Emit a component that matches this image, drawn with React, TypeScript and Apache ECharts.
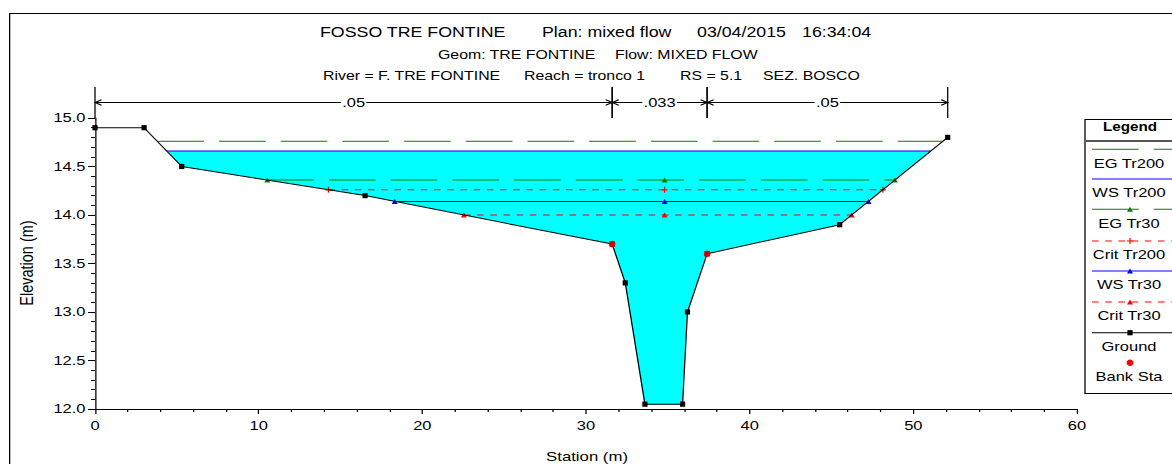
import React, { useEffect, useRef } from 'react';
import * as echarts from 'echarts';

// ---------- data ----------
const groundSta = [0, 3, 5.3, 16.5, 31.6, 32.4, 33.6, 35.9, 36.2, 37.4, 45.5, 52.1];
const groundElev = [14.9, 14.9, 14.5, 14.2, 13.7, 13.3, 12.05, 12.05, 13.0, 13.6, 13.9, 14.8];
const bankSta = [31.6, 37.4];
const manningN = ['.05', '.033', '.05'];
const profileNames = ['EG Tr200', 'WS Tr200', 'EG Tr30', 'Crit Tr200', 'WS Tr30', 'Crit Tr30'];
const profileElev = [14.76, 14.66, 14.36, 14.26, 14.14, 14.0];
const centerMarkerSta = 34.8;
const legendLabels = [...profileNames, 'Ground', 'Bank Sta'];
const titleLine1 = ['FOSSO TRE FONTINE', 'Plan: mixed flow', '03/04/2015', '16:34:04'];
const titleLine2 = ['Geom: TRE FONTINE', 'Flow: MIXED FLOW'];
const titleLine3 = ['River = F. TRE FONTINE', 'Reach = tronco 1', 'RS = 5.1', 'SEZ. BOSCO'];
const xAxisName = 'Station (m)';
const yAxisName = 'Elevation (m)';

// ---------- layout (page px; chart is stretched horizontally) ----------
const W = 923;
const H = 464;
const S = 1172 / W;
const X = (p: number) => p / S;
const FONT = 'Liberation Sans, Arial, Helvetica, sans-serif';

const DIM_ELEV = 15.17;
const DIM_TOP = 15.32;
const DIM_BOT = 15.0;

const DASH_LONG = [X(46.7), X(15)];
const DASH_SHORT = [X(6.6), X(6.6)];
const TRI = [X(6), 5];
const CROSS_PATH = 'path://M4,0H6V4H10V6H6V10H4V6H0V4H4Z';

type PStyle = { color: string; dash: number[] | null; marker: string | null; center: boolean };
const profileStyles: PStyle[] = [
  { color: '#008000', dash: DASH_LONG, marker: null, center: false },
  { color: '#0000ff', dash: null, marker: null, center: false },
  { color: '#008000', dash: DASH_LONG, marker: 'triangle', center: true },
  { color: '#ff0000', dash: DASH_SHORT, marker: 'cross', center: true },
  { color: '#0000ff', dash: null, marker: 'triangle', center: true },
  { color: '#ff0000', dash: DASH_SHORT, marker: 'triangle', center: true },
];

function crossings(w: number): [number, number] {
  let left = groundSta[0];
  let right = groundSta[groundSta.length - 1];
  for (let i = 0; i < groundSta.length - 1; i++) {
    const e0 = groundElev[i], e1 = groundElev[i + 1];
    if (e0 >= w && e1 < w) {
      left = groundSta[i] + ((e0 - w) / (e0 - e1)) * (groundSta[i + 1] - groundSta[i]);
      break;
    }
  }
  for (let i = groundSta.length - 1; i > 0; i--) {
    const e0 = groundElev[i], e1 = groundElev[i - 1];
    if (e0 >= w && e1 < w) {
      right = groundSta[i] - ((e0 - w) / (e0 - e1)) * (groundSta[i] - groundSta[i - 1]);
      break;
    }
  }
  return [left, right];
}

function groundAt(x: number): number {
  for (let i = 0; i < groundSta.length - 1; i++) {
    if (x >= groundSta[i] && x <= groundSta[i + 1]) {
      const t = (x - groundSta[i]) / (groundSta[i + 1] - groundSta[i]);
      return groundElev[i] + t * (groundElev[i + 1] - groundElev[i]);
    }
  }
  return groundElev[groundElev.length - 1];
}

export default function App() {
  const ref = useRef<HTMLDivElement>(null);

  useEffect(() => {
    if (!ref.current) return;
    const chart = echarts.init(ref.current, undefined, { renderer: 'svg', width: W, height: H });

    const wsElev = profileElev[1];
    const [wl, wr] = crossings(wsElev);
    const waterPoly: number[][] = [[wl, wsElev]];
    groundSta.forEach((s, i) => {
      if (s > wl && s < wr) waterPoly.push([s, groundElev[i]]);
    });
    waterPoly.push([wr, wsElev]);

    const nBreaks = [groundSta[0], bankSta[0], bankSta[1], groundSta[groundSta.length - 1]];

    const profileSeries = profileNames.map((name, i) => {
      const e = profileElev[i];
      const st = profileStyles[i];
      const [l, r] = crossings(e);
      const data = st.center ? [[l, e], [centerMarkerSta, e], [r, e]] : [[l, e], [r, e]];
      return {
        name,
        type: 'line',
        data,
        silent: true,
        showSymbol: !!st.marker,
        showAllSymbol: true,
        symbol: st.marker === 'cross' ? CROSS_PATH : st.marker || 'none',
        symbolSize: st.marker === 'cross' ? [X(6), 6] : TRI,
        itemStyle: { color: st.color },
        lineStyle: { color: st.color, width: 1, type: st.dash ? st.dash : 'solid' },
        z: 3,
      };
    });

    const textStyle = (text: string, x: number, y: number, size: number, extra: any = {}) => ({
      type: 'text',
      x,
      y,
      style: {
        text,
        fill: '#000',
        fontSize: size,
        fontFamily: FONT,
        align: extra.align || 'left',
        verticalAlign: 'middle',
        textAlign: extra.align || 'left',
        textVerticalAlign: 'middle',
        fontWeight: extra.fontWeight || 'normal',
      },
      rotation: extra.rotation || 0,
    });

    // legend graphics
    const legLineY = [149.3, 179, 209.3, 241, 271, 302, 332.7, 362.7];
    const legTextY = [163.3, 192.7, 223.3, 254.3, 285, 315.7, 346.7, 376.7];
    const lx0 = X(1092), lx1 = X(1190), lcx = X(1130);
    const legendEls: any[] = [
      {
        type: 'rect',
        shape: { x: X(1085), y: 119.5, width: X(110), height: 274 },
        style: { fill: '#fff', stroke: '#000', lineWidth: 1 },
      },
      textStyle('Legend', X(1130), 127, 12, { align: 'center', fontWeight: 'bold' }),
      { type: 'line', shape: { x1: X(1085), y1: 141, x2: X(1190), y2: 141 }, style: { stroke: '#555', lineWidth: 2 } },
    ];
    legendLabels.forEach((lab, i) => {
      const y = legLineY[i];
      if (i < profileNames.length) {
        const st = profileStyles[i];
        legendEls.push({
          type: 'line',
          shape: { x1: lx0, y1: y, x2: lx1, y2: y },
          style: { stroke: st.color, lineWidth: 1, lineDash: st.dash || undefined },
        });
        if (st.marker === 'triangle') {
          legendEls.push({
            type: 'polygon',
            shape: { points: [[lcx - X(3), y + 2.5], [lcx + X(3), y + 2.5], [lcx, y - 2.5]] },
            style: { fill: st.color },
          });
        } else if (st.marker === 'cross') {
          legendEls.push({ type: 'line', shape: { x1: lcx - X(3), y1: y, x2: lcx + X(3), y2: y }, style: { stroke: st.color, lineWidth: 1 } });
          legendEls.push({ type: 'line', shape: { x1: lcx, y1: y - 3, x2: lcx, y2: y + 3 }, style: { stroke: st.color, lineWidth: 1 } });
        }
      } else if (lab === 'Ground') {
        legendEls.push({ type: 'line', shape: { x1: lx0, y1: y, x2: lx1, y2: y }, style: { stroke: '#000', lineWidth: 1 } });
        legendEls.push({ type: 'rect', shape: { x: lcx - X(2.6), y: y - 2.6, width: X(5.2), height: 5.2 }, style: { fill: '#000' } });
      } else {
        legendEls.push({ type: 'ellipse', shape: { cx: lcx, cy: y, rx: X(3.4), ry: 3.3 }, style: { fill: '#ff0000' } });
      }
      legendEls.push(textStyle(lab, X(1129), legTextY[i], 13, { align: 'center' }));
    });

    const option: any = {
      animation: false,
      backgroundColor: '#fff',
      grid: {
        left: X(95),
        top: 118,
        width: X(982),
        height: 291,
        containLabel: false,
        outerBoundsMode: 'none',
      },
      xAxis: {
        type: 'value',
        min: 0,
        max: 60,
        interval: 10,
        axisLine: { show: true, onZero: false, lineStyle: { color: '#000', width: 1 } },
        axisTick: { show: true, length: 5, lineStyle: { color: '#000', width: 1 } },
        minorTick: { show: true, splitNumber: 5, length: 3, lineStyle: { color: '#000', width: 1 } },
        splitLine: { show: false },
        minorSplitLine: { show: false },
        axisLabel: { color: '#000', fontSize: 13, fontFamily: FONT, margin: 10 },
      },
      yAxis: {
        type: 'value',
        min: 12,
        max: 15,
        interval: 0.5,
        axisLine: { show: true, onZero: false, lineStyle: { color: '#000', width: 1 } },
        axisTick: { show: true, length: X(7), lineStyle: { color: '#000', width: 1 } },
        minorTick: { show: true, splitNumber: 5, length: X(4), lineStyle: { color: '#000', width: 1 } },
        splitLine: { show: false },
        minorSplitLine: { show: false },
        axisLabel: {
          color: '#000',
          fontSize: 13,
          fontFamily: FONT,
          margin: X(9.5),
          formatter: (v: number) => v.toFixed(1),
        },
      },
      series: [
        {
          name: 'water',
          type: 'custom',
          silent: true,
          z: 1,
          data: waterPoly,
          encode: { x: 0, y: 1 },
          renderItem: (params: any, api: any) => {
            if (params.dataIndex !== 0) return null;
            const pts = waterPoly.map((p) => api.coord(p));
            return { type: 'polygon', shape: { points: pts }, style: { fill: '#00ffff', stroke: 'none' } };
          },
        },
        ...profileSeries,
        {
          name: 'Ground',
          type: 'line',
          silent: true,
          z: 4,
          data: groundSta.map((s, i) => [s, groundElev[i]]),
          symbol: 'rect',
          symbolSize: [X(5.2), 5.2],
          showAllSymbol: true,
          itemStyle: { color: '#000' },
          lineStyle: { color: '#000', width: 1 },
        },
        {
          name: 'Bank Sta',
          type: 'scatter',
          silent: true,
          z: 5,
          data: bankSta.map((s) => [s, groundAt(s)]),
          symbol: 'circle',
          symbolSize: [X(6.8), 6.6],
          itemStyle: { color: '#ff0000' },
        },
        {
          name: 'n values',
          type: 'custom',
          silent: true,
          clip: false,
          z: 6,
          data: manningN.map((_, i) => [nBreaks[i], nBreaks[i + 1], DIM_ELEV]),
          encode: { x: [0, 1], y: 2 },
          renderItem: (params: any, api: any) => {
            const x0 = api.value(0);
            const x1 = api.value(1);
            const p0 = api.coord([x0, DIM_ELEV]);
            const p1 = api.coord([x1, DIM_ELEV]);
            const yTop = api.coord([x0, DIM_TOP])[1];
            const yBot = api.coord([x0, DIM_BOT])[1];
            const y = Math.round(p0[1]) + 0.5;
            const a = X(6.5);
            const h = 2.7;
            const ls = { stroke: '#000', lineWidth: 1, fill: 'none' };
            return {
              type: 'group',
              children: [
                { type: 'line', shape: { x1: p0[0], y1: y, x2: p1[0], y2: y }, style: ls },
                { type: 'polyline', shape: { points: [[p0[0] + a, y - h], [p0[0], y], [p0[0] + a, y + h]] }, style: ls },
                { type: 'polyline', shape: { points: [[p1[0] - a, y - h], [p1[0], y], [p1[0] - a, y + h]] }, style: ls },
                { type: 'line', shape: { x1: p0[0], y1: yTop, x2: p0[0], y2: yBot }, style: ls },
                { type: 'line', shape: { x1: p1[0], y1: yTop, x2: p1[0], y2: yBot }, style: ls },
                {
                  type: 'text',
                  x: (p0[0] + p1[0]) / 2,
                  y: y + 0.5,
                  style: {
                    text: manningN[params.dataIndex],
                    fill: '#000',
                    fontSize: 13,
                    fontFamily: FONT,
                    align: 'center',
                    verticalAlign: 'middle',
                    textAlign: 'center',
                    textVerticalAlign: 'middle',
                    backgroundColor: '#fff',
                    padding: [0, 1],
                  },
                },
              ],
            };
          },
        },
      ],
      graphic: [
        {
          type: 'rect',
          z: -10,
          shape: { x: X(9) + 0.5, y: 13.5, width: 2000, height: 1000 },
          style: { fill: 'none', stroke: '#000', lineWidth: 1 },
        },
        textStyle(titleLine1[0], X(320), 31.7, 14),
        textStyle(titleLine1[1], X(542), 31.7, 14),
        textStyle(titleLine1[2], X(697), 31.7, 14),
        textStyle(titleLine1[3], X(802), 31.7, 14),
        textStyle(titleLine2[0], X(438), 55, 12.5),
        textStyle(titleLine2[1], X(615), 55, 12.5),
        textStyle(titleLine3[0], X(323), 76, 12.5),
        textStyle(titleLine3[1], X(524), 76, 12.5),
        textStyle(titleLine3[2], X(680), 76, 12.5),
        textStyle(titleLine3[3], X(763), 76, 12.5),
        textStyle(xAxisName, X(587), 456, 13.2, { align: 'center' }),
        textStyle(yAxisName, X(27), 263, 14.5, { align: 'center', rotation: Math.PI / 2 }),
        ...legendEls,
      ],
    };

    chart.setOption(option);
    return () => chart.dispose();
  }, []);

  return (
    <div style={{ position: 'fixed', left: 0, top: 0, width: 1172, height: H, overflow: 'hidden', background: '#fff' }}>
      <div
        ref={ref}
        style={{ width: W, height: H, transform: `scaleX(${S})`, transformOrigin: '0 0' }}
      />
    </div>
  );
}
